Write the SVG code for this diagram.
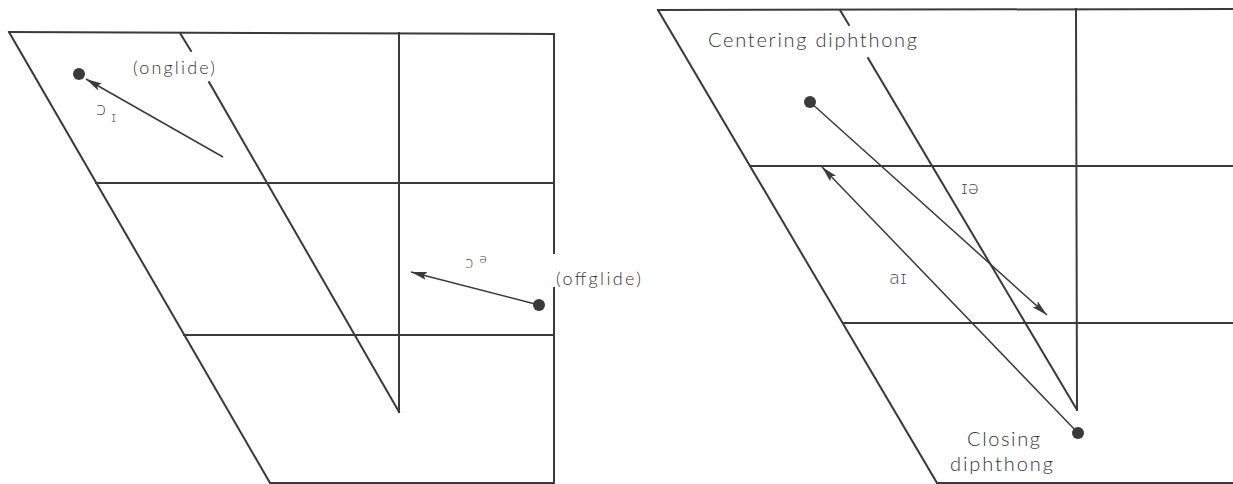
<svg xmlns="http://www.w3.org/2000/svg" width="1233" height="484" viewBox="0 0 1233 484">
<style>
.grid{stroke:#3a3a3a;stroke-width:2;fill:none;stroke-linecap:square}
.conn{stroke:#3a3a3a;stroke-width:1.5;fill:none}
.dot{fill:#3a3a3a}
.lbl{font-family:Lato,"Open Sans","Liberation Sans",sans-serif;font-weight:300;fill:#333;font-size:18px}
.ipa{font-family:"DejaVu Sans","Noto Sans",sans-serif;font-weight:300;fill:#444;font-size:18px}
</style>
<defs>
<marker id="ah" viewBox="0 0 16 8" refX="16" refY="4" markerWidth="16" markerHeight="8" markerUnits="userSpaceOnUse" orient="auto">
<path d="M0,0 L16,4 L0,8 L3,4 Z" fill="#3a3a3a"/>
</marker>
</defs>
<rect width="1233" height="484" fill="#fff"/>

<g id="chart-left">
<path class="grid" d="M9,32 L554,34"/>
<path class="grid" d="M9,32 L270,483"/>
<path class="grid" d="M96,183 L554,183"/>
<path class="grid" d="M184,335 L554,335"/>
<path class="grid" d="M270,483 L554,483"/>
<path class="grid" d="M554,34 L554,253 M554,288 L554,483"/>
<path class="grid" d="M399,33 L399,412"/>
<path class="grid" d="M180,33 L191,51 M209,82 L399,412"/>
</g>

<g id="chart-right">
<path class="grid" d="M658,10 L1233,9"/>
<path class="grid" d="M658,10 L937,483"/>
<path class="grid" d="M750,166 L1233,166"/>
<path class="grid" d="M843,323 L1233,323"/>
<path class="grid" d="M937,483 L1233,483"/>
<path class="grid" d="M1076,9 L1077,410"/>
<path class="grid" d="M840,10 L849,25 M868,58 L1077,410"/>
</g>

<g id="node-onglide">
<circle class="dot" cx="79" cy="74" r="6"/>
<text class="lbl" x="133" y="74" textLength="82" lengthAdjust="spacing">(onglide)</text>
<text class="ipa" x="96" y="115">ɔ</text>
<text class="ipa" x="111" y="122" style="font-size:14px">ɪ</text>
</g>

<g id="node-offglide">
<circle class="dot" cx="539" cy="305" r="6"/>
<text class="lbl" x="556" y="285" textLength="85" lengthAdjust="spacing">(offglide)</text>
<text class="ipa" x="465" y="268" style="font-size:15px">ɔ</text>
<text class="ipa" x="479" y="263" style="font-size:13px">ə</text>
</g>

<g id="node-centering">
<circle class="dot" cx="810" cy="102" r="6"/>
<text class="lbl" x="708" y="47" style="font-size:20px" textLength="209" lengthAdjust="spacing">Centering diphthong</text>
<text class="ipa" x="961" y="194">ɪə</text>
</g>

<g id="node-closing">
<circle class="dot" cx="1078" cy="433" r="6"/>
<text class="lbl" x="967" y="446" style="font-size:20px" textLength="73" lengthAdjust="spacing">Closing</text>
<text class="lbl" x="950" y="471" style="font-size:20px" textLength="103" lengthAdjust="spacing">diphthong</text>
<text class="ipa" x="889" y="284">aɪ</text>
</g>

<g id="connectors">
<path class="conn" d="M223,157 L86,79" marker-end="url(#ah)"/>
<path class="conn" d="M539,305 L411,272" marker-end="url(#ah)"/>
<path class="conn" d="M810,102 L1047,315" marker-end="url(#ah)"/>
<path class="conn" d="M1078,433 L822,167" marker-end="url(#ah)"/>
</g>
</svg>
